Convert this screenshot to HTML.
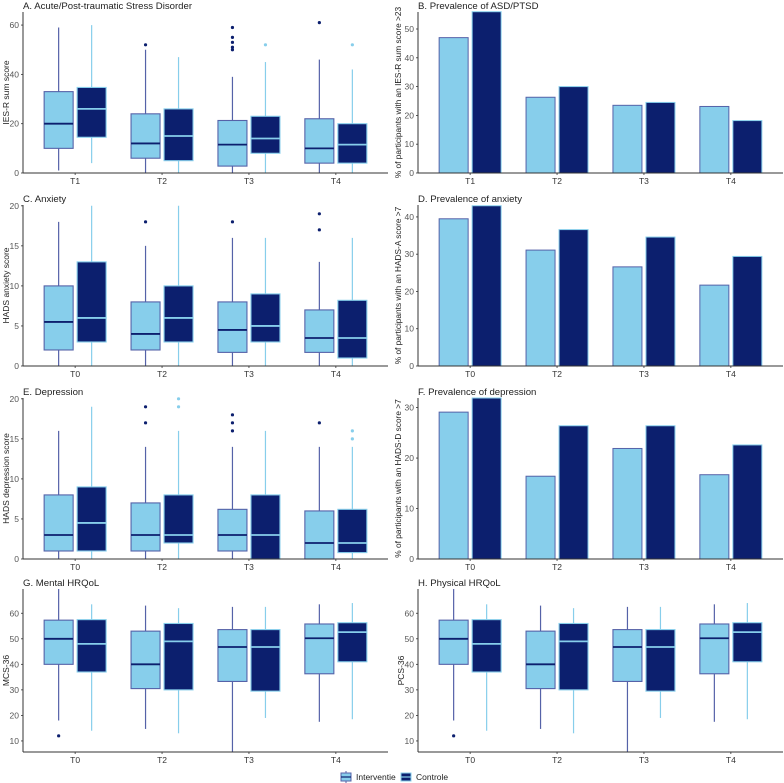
<!DOCTYPE html>
<html><head><meta charset="utf-8"><style>
html,body{margin:0;padding:0;background:#fff;}
svg{display:block;font-family:"Liberation Sans",sans-serif;}
</style></head><body>
<svg id="chart" width="784" height="783" viewBox="0 0 784 783" xmlns="http://www.w3.org/2000/svg"></svg>
<script>
// ---- data ----
const catsA = ["T1","T2","T3","T4"];
const catsB = ["T0","T2","T3","T4"];
// box stats: [min, q1, median, q3, max]
const ptsdInt = [[1,10,20,33,59],[0,6,12,24,50],[0,2.8,11.5,21.3,39],[0,4,10,22,46]];
const ptsdCtl = [[4,14.5,26,34.7,60],[0,5,15,26,47],[0,8,14,23,45],[0,4,11.5,20,42]];
const ptsdIntOut = [[],[52],[50,51,53,55,59],[61]];
const ptsdCtlOut = [[],[],[52],[52]];
const anxInt = [[0,2,5.5,10,18],[0,2,4,8,15],[0,1.7,4.5,8,16],[0,1.7,3.5,7,13]];
const anxCtl = [[0,3,6,13,20],[0,3,6,10,20],[0,3,5,9,16],[0,1,3.5,8.2,16]];
const anxIntOut = [[],[18],[18],[17,19]];
const anxCtlOut = [[],[],[],[]];
const depInt = [[0,1,3,8,16],[0,1,3,7,14],[0,1,3,6.2,14],[0,0,2,6,14]];
const depCtl = [[0,1,4.5,9,19],[0,2,3,8,16],[0,0,3,8,16],[0,0.8,2,6.2,14]];
const depIntOut = [[],[17,19],[16,17,18],[17]];
const depCtlOut = [[],[19,20],[],[15,16]];
const mcsInt = [[18,40,50,57.3,69.5],[14.7,30.5,40,53,63],[5.6,33.3,46.8,53.6,62.5],[17.5,36.3,50.2,55.8,63.5]];
const mcsCtl = [[14,37,48,57.5,63.5],[13,30,49,56,62],[19,29.5,46.8,53.6,62.5],[18.5,41,52.6,56.3,64]];
const mcsIntOut = [[12],[],[],[]];
const mcsCtlOut = [[],[],[],[]];
const pcsInt = [[18,40,50,57.3,69.5],[14.7,30.5,40,53,63],[5.6,33.3,46.8,53.6,62.5],[17.5,36.3,50.2,55.8,63.5]];
const pcsCtl = [[14,37,48,57.5,63.5],[13,30,49,56,62],[19,29.5,46.8,53.6,62.5],[18.5,41,52.6,56.3,64]];
const pcsIntOut = [[12],[],[],[]];
const pcsCtlOut = [[],[],[],[]];
const prevPtsdInt = [47,26.3,23.5,23.1];
const prevPtsdCtl = [56,30,24.5,18.2];
const prevAnxInt = [39.5,31.1,26.6,21.7];
const prevAnxCtl = [43,36.6,34.6,29.4];
const prevDepInt = [29.1,16.4,21.9,16.7];
const prevDepCtl = [31.9,26.4,26.4,22.6];
const ticksA = [0,20,40,60];
const ticksC = [0,5,10,15,20];
const ticksG = [10,20,30,40,50,60];
const ticksB = [0,10,20,30,40,50];
const ticksD = [0,10,20,30,40];
const ticksF = [0,10,20,30];

const C_LIGHT="#87CEEB", C_NAVY="#0C1F6E", C_SLATE="#5562A8";
const svg=document.getElementById('chart');
const NS="http://www.w3.org/2000/svg";
function mk(tag,attrs,parent){const e=document.createElementNS(NS,tag);for(const k in attrs)e.setAttribute(k,attrs[k]);(parent||svg).appendChild(e);return e;}

function panel(o){
  const g=mk('g',{});
  
  
  const left=o.x0, right=o.x0+365, top=o.top, bot=o.bot;
  const y=v=>bot-(v-o.ymin)/(o.ymax-o.ymin)*(bot-top);
  const step=(right-left)/4.2;
  const x=i=>left+0.6*step+i*step;
  const t=mk('text',{x:left,y:top-3,'font-size':9.6,fill:'#222'},g);t.textContent=o.title;
  
  
  const yt=mk('text',{x:0,y:0,'font-size':o.bar?8.3:8.5,fill:'#222','text-anchor':'middle',transform:`translate(${left-(o.bar?17:14)},${(top+bot)/2}) rotate(-90)`},g);
  yt.textContent=o.ytitle;
  
  
  o.ticks.forEach(v=>{
    const tt=mk('text',{x:left-4,y:y(v)+3,'font-size':8.5,fill:'#555','text-anchor':'end'},g);tt.textContent=v;
    
    
    mk('line',{x1:left-2,x2:left,y1:y(v),y2:y(v),stroke:'#333','stroke-width':0.8},g);
  });
  o.cats.forEach((c,i)=>{
    const tt=mk('text',{x:x(i),y:bot+11,'font-size':8.5,fill:'#333','text-anchor':'middle'},g);tt.textContent=c;
    
    
    mk('line',{x1:x(i),x2:x(i),y1:bot,y2:bot+2,stroke:'#333','stroke-width':0.8},g);
  });
  const W=29, d=16.5;
  if(o.bar){
    o.int.forEach((v,i)=>{
      const r=mk('rect',{x:x(i)-d-W/2,y:y(v),width:W,height:bot-y(v),fill:C_LIGHT,stroke:C_SLATE,'stroke-width':1},g);
      
      
    });
    o.ctl.forEach((v,i)=>{
      const r=mk('rect',{x:x(i)+d-W/2,y:y(v),width:W,height:bot-y(v),fill:C_NAVY,stroke:C_LIGHT,'stroke-width':1},g);
      
      
    });
  } else {
    const box=(s,cx,fill,stroke,med,wcol,name)=>{
      const lo=Math.max(s[0],o.ymin), hi=Math.min(s[4],o.ymax);
      const w=mk('line',{x1:cx,x2:cx,y1:y(lo),y2:y(hi),stroke:wcol,'stroke-width':1.2},g);
      
      
      const q1=Math.max(s[1],o.ymin);
      const r=mk('rect',{x:cx-W/2,y:y(s[3]),width:W,height:y(q1)-y(s[3]),fill:fill,stroke:stroke,'stroke-width':1.1},g);
      
      
      const m=mk('line',{x1:cx-W/2,x2:cx+W/2,y1:y(s[2]),y2:y(s[2]),stroke:med,'stroke-width':1.8},g);
      
      
    };
    o.int.forEach((s,i)=>box(s,x(i)-d,C_LIGHT,C_SLATE,C_NAVY,C_SLATE,'box-interventie-'+o.cats[i]));
    o.ctl.forEach((s,i)=>box(s,x(i)+d,C_NAVY,C_LIGHT,C_LIGHT,C_LIGHT,'box-controle-'+o.cats[i]));
    o.intOut.forEach((arr,i)=>arr.forEach(v=>{const p=mk('circle',{cx:x(i)-d,cy:y(v),r:1.6,fill:C_NAVY},g);
      
      }));
    o.ctlOut.forEach((arr,i)=>arr.forEach(v=>{const p=mk('circle',{cx:x(i)+d,cy:y(v),r:1.6,fill:C_LIGHT},g);
      
      }));
  }
  mk('line',{x1:left,x2:left,y1:top,y2:bot,stroke:'#333','stroke-width':1},g);
  mk('line',{x1:left,x2:right,y1:bot,y2:bot,stroke:'#333','stroke-width':1},g);
}
const L=23, R=418, rowOff=193;
panel({name:'panel-a-ptsd',x0:L,top:12,bot:173,ymin:0,ymax:65.3,ticks:ticksA,cats:catsA,title:'A. Acute/Post-traumatic Stress Disorder',ytitle:'IES-R sum score',int:ptsdInt,ctl:ptsdCtl,intOut:ptsdIntOut,ctlOut:ptsdCtlOut});
panel({name:'panel-b-prev-ptsd',x0:R,top:12,bot:173,ymin:0,ymax:55.9,ticks:ticksB,cats:catsA,bar:true,title:'B. Prevalence of ASD/PTSD',ytitle:'% of participants with an IES-R sum score >23',int:prevPtsdInt,ctl:prevPtsdCtl});
panel({name:'panel-c-anxiety',x0:L,top:12+rowOff,bot:173+rowOff,ymin:0,ymax:20.1,ticks:ticksC,cats:catsB,title:'C. Anxiety',ytitle:'HADS anxiety score',int:anxInt,ctl:anxCtl,intOut:anxIntOut,ctlOut:anxCtlOut});
panel({name:'panel-d-prev-anxiety',x0:R,top:12+rowOff,bot:173+rowOff,ymin:0,ymax:43.2,ticks:ticksD,cats:catsB,bar:true,title:'D. Prevalence of anxiety',ytitle:'% of participants with an HADS-A score >7',int:prevAnxInt,ctl:prevAnxCtl});
panel({name:'panel-e-depression',x0:L,top:12+2*rowOff,bot:173+2*rowOff,ymin:0,ymax:20.1,ticks:ticksC,cats:catsB,title:'E. Depression',ytitle:'HADS depression score',int:depInt,ctl:depCtl,intOut:depIntOut,ctlOut:depCtlOut});
panel({name:'panel-f-prev-depression',x0:R,top:12+2*rowOff,bot:173+2*rowOff,ymin:0,ymax:31.9,ticks:ticksF,cats:catsB,bar:true,title:'F. Prevalence of depression',ytitle:'% of participants with an HADS-D score >7',int:prevDepInt,ctl:prevDepCtl});
panel({name:'panel-g-mental-hrqol',x0:L,top:12+3*rowOff-2,bot:173+3*rowOff,ymin:5.67,ymax:69.5,ticks:ticksG,cats:catsB,title:'G. Mental HRQoL',ytitle:'MCS-36',int:mcsInt,ctl:mcsCtl,intOut:mcsIntOut,ctlOut:mcsCtlOut});
panel({name:'panel-h-physical-hrqol',x0:R,top:12+3*rowOff-2,bot:173+3*rowOff,ymin:5.67,ymax:69.5,ticks:ticksG,cats:catsB,title:'H. Physical HRQoL',ytitle:'PCS-36',int:pcsInt,ctl:pcsCtl,intOut:pcsIntOut,ctlOut:pcsCtlOut});

// legend
const lg=mk('g',{});


const e1=mk('g',{},lg);


mk('line',{x1:346,x2:346,y1:771,y2:783,stroke:C_SLATE,'stroke-width':1},e1);
mk('rect',{x:341,y:773,width:10,height:8,fill:C_LIGHT,stroke:C_SLATE,'stroke-width':1},e1);
mk('line',{x1:341,x2:351,y1:777,y2:777,stroke:C_NAVY,'stroke-width':1.2},e1);
const lt1=mk('text',{x:356,y:780,'font-size':8.5,fill:'#222'},e1);lt1.textContent='Interventie';
const e2=mk('g',{},lg);


mk('rect',{x:401,y:773,width:10,height:8,fill:C_NAVY,stroke:C_LIGHT,'stroke-width':1},e2);
mk('line',{x1:401,x2:411,y1:777,y2:777,stroke:C_LIGHT,'stroke-width':1.2},e2);
const lt2=mk('text',{x:416,y:780,'font-size':8.5,fill:'#222'},e2);lt2.textContent='Controle';
</script>
</body></html>
